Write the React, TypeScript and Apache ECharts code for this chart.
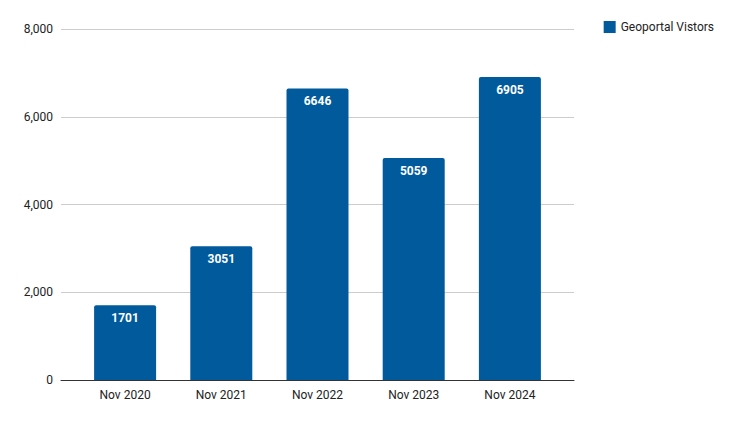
import React, { useEffect, useRef } from "react";
import * as echarts from "echarts";

const categories = ["Nov 2020", "Nov 2021", "Nov 2022", "Nov 2023", "Nov 2024"];
const visitors = [1701, 3051, 6646, 5059, 6905];
const seriesName = "Geoportal Vistors";
const yMin = 0;
const yMax = 8000;
const yInterval = 2000;

export default function App() {
  const ref = useRef<HTMLDivElement>(null);
  useEffect(() => {
    if (!ref.current) return;
    const chart = echarts.init(ref.current, undefined, { renderer: "svg" });
    const font = "Roboto, Arial, sans-serif";
    chart.setOption({
      animation: false,
      textStyle: { fontFamily: font },
      legend: {
        data: [seriesName],
        right: 24,
        top: 8,
        orient: "vertical",
        icon: "rect",
        itemWidth: 12,
        itemHeight: 12,
        itemGap: 8,
        textStyle: { fontFamily: font, fontSize: 12, color: "#222" },
      },
      grid: [
        { left: 53, right: 169, top: 21, bottom: 51, containLabel: false },
        { left: 69, right: 185, top: 21, bottom: 51, containLabel: false },
      ],
      xAxis: [
        {
          gridIndex: 0,
          type: "category",
          data: categories,
          axisLine: { show: true, lineStyle: { color: "#333", width: 1 } },
          axisTick: { show: false },
          axisLabel: { show: false },
          splitLine: { show: false },
        },
        {
          gridIndex: 1,
          type: "category",
          data: categories,
          axisLine: { show: false },
          axisTick: { show: false },
          axisLabel: { color: "#222", fontSize: 12, margin: 9, fontFamily: font },
          splitLine: { show: false },
        },
      ],
      yAxis: [
        {
          gridIndex: 0,
          type: "value",
          min: yMin,
          max: yMax,
          interval: yInterval,
          axisLine: { show: false },
          axisTick: { show: false },
          axisLabel: {
            color: "#222",
            fontSize: 12,
            margin: 8,
            fontFamily: font,
            formatter: (v: number) => v.toLocaleString("en-US"),
          },
          splitLine: { show: true, lineStyle: { color: "#ccc", width: 1 } },
        },
        {
          gridIndex: 1,
          type: "value",
          min: yMin,
          max: yMax,
          interval: yInterval,
          show: false,
          splitLine: { show: false },
        },
      ],
      series: [
        {
          name: seriesName,
          type: "bar",
          xAxisIndex: 1,
          yAxisIndex: 1,
          data: visitors,
          barWidth: 62,
          itemStyle: { color: "#005a9c", borderRadius: [2, 2, 0, 0] },
          label: {
            show: true,
            position: "insideTop",
            distance: 7,
            color: "#fff",
            fontWeight: "bold",
            fontSize: 12,
            fontFamily: font,
          },
          z: 3,
        },
      ],
    });
    return () => chart.dispose();
  }, []);
  return <div ref={ref} style={{ width: 735, height: 423 }} />;
}
